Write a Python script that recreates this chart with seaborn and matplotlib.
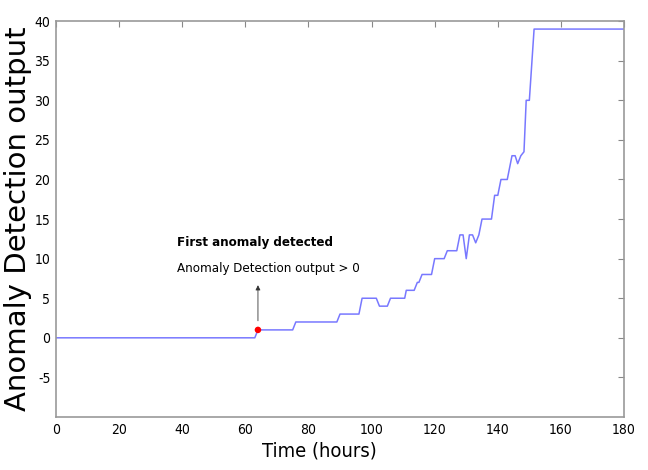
import numpy as np
import pandas as pd
import seaborn as sns
import matplotlib.pyplot as plt

# Staircase trace
hours = [0, 63, 64, 75, 76, 89, 90, 96, 97, 101.5, 102.5, 105, 106, 110.5, 111,
         113.5, 114.5, 115, 116, 119, 120, 123, 124, 127, 128, 129, 130, 131,
         132, 133, 134, 135, 138, 139, 140, 141, 143, 144.5, 145.5, 146.3,
         147.3, 148.3, 149, 150, 151.5, 180]
output = [0, 0, 1, 1, 2, 2, 3, 3, 5, 5, 4, 4, 5, 5, 6,
          6, 7, 7, 8, 8, 10, 10, 11, 11, 13, 13, 10, 13,
          13, 12, 13, 15, 15, 18, 18, 20, 20, 23, 23, 22,
          23, 23.5, 30, 30, 39, 39]
first_hour = [64]
first_value = [1]
xticks = list(range(0, 181, 20))
yticks = list(range(-5, 41, 5))

df = pd.DataFrame({"Time": hours, "Output": output})

sns.set_style("white")
plt.rcParams["xtick.direction"] = "in"
plt.rcParams["ytick.direction"] = "in"
plt.rcParams["text.color"] = "black"
plt.rcParams["axes.labelcolor"] = "black"
plt.rcParams["xtick.labelcolor"] = "black"
plt.rcParams["ytick.labelcolor"] = "black"
cond = dict(family="DejaVu Sans", stretch="condensed")

fig = plt.figure(figsize=(6.48, 4.70), dpi=100)
ax = fig.add_axes([0.0864, 0.1128, 0.8766, 0.8422])

sns.lineplot(data=df, x="Time", y="Output", sort=False, estimator=None,
             color="#7878ff", linewidth=1.1, ax=ax)
sns.scatterplot(x=first_hour, y=first_value, color="red", s=22, zorder=5,
                edgecolor="none", ax=ax)

ax.annotate("", xy=(first_hour[0], 7), xytext=(first_hour[0], 1.8),
            arrowprops=dict(arrowstyle="-|>", color="#333333", lw=0.6,
                            mutation_scale=7))
ax.text(38.5, 12.0, "First anomaly detected", fontsize=9.5, fontweight="bold",
        va="center", ha="left", **cond)
ax.text(38.5, 8.7, "Anomaly Detection output > 0", fontsize=9.5,
        va="center", ha="left", **cond)

ax.set_xlim(0, 180)
ax.set_ylim(-10, 40)
ax.set_xticks(xticks)
ax.set_yticks(yticks)
ax.set_xticklabels([str(t) for t in xticks], fontsize=10, **cond)
ax.set_yticklabels([str(t) for t in yticks], fontsize=10, **cond)
ax.tick_params(axis="both", which="both", length=4, width=0.8, color="#888888",
               top=True, right=True, pad=4)
for s in ax.spines.values():
    s.set_color("#999999")
    s.set_linewidth(1.2)

ax.set_xlabel("Time (hours)", fontsize=14.5, **cond)
ax.xaxis.set_label_coords(0.463, -0.062)
ax.set_ylabel("Anomaly Detection output", fontsize=21, labelpad=2)

fig.savefig("out.png", dpi=100)
